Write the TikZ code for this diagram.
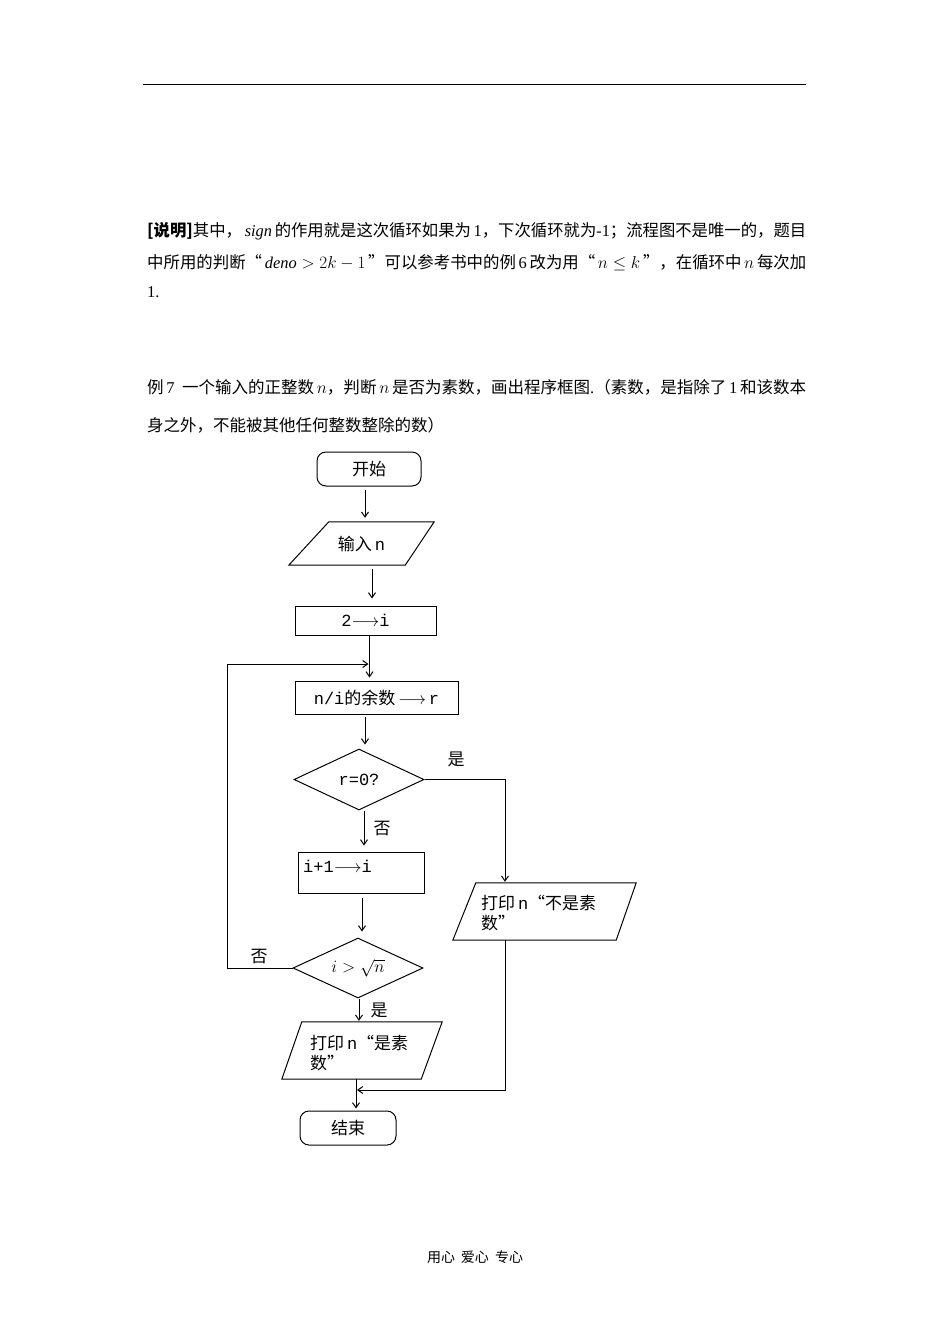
\documentclass[tikz,border=0pt]{standalone}
\usepackage{fontspec}
\usepackage{graphicx}
\setmainfont{Liberation Serif}
\newfontfamily\cjk{Noto Sans CJK SC}
\newfontfamily\fcmono{Liberation Mono}
\usetikzlibrary{shapes.geometric,arrows.meta,calc}
\newcommand{\fitline}[1]{\resizebox{659pt}{\height}{#1}}
\begin{document}
\begin{tikzpicture}[x=1pt,y=-1pt,
  body/.style={anchor=west,inner sep=0pt,font=\fontsize{16.5}{20}\selectfont},
  fc/.style={font=\cjk\fontsize{17}{20}\selectfont},
  term/.style={fc,draw,line width=1pt,rounded corners=9pt},
  proc/.style={fc,draw,line width=1pt,inner sep=0pt},
  iobox/.style={fc,inner sep=0pt},
  dec/.style={fc,draw,line width=1pt,diamond,inner sep=0pt},
  lbl/.style={fc,inner sep=0pt},
  conn/.style={line width=1pt},
  arr/.style={conn,-{Straight Barb[length=5pt,width=7pt]}}]
\useasboundingbox (0,0) rectangle (950,1344);
\draw[line width=1pt] (143,84) -- (806,84);
% body text
\node[body] (t1) at (147,231) {\fitline{{\cjk\bfseries [说明]}{\cjk 其中，}\,$\mathit{sign}$\,{\cjk 的作用就是这次循环如果为}\,1{\cjk ，下次循环就为}-1{\cjk ；流程图不是唯一的，题目}}};
\node[body] (t2) at (147,263) {\fitline{{\cjk 中所用的判断“}\,$\mathit{deno}>2k-1$\,{\cjk ”可以参考书中的例}\,6\,{\cjk 改为用“}\,$n\le k$\,{\cjk ”，在循环中}\,$n$\,{\cjk 每次加}}};
\node[body] (t3) at (147,292) {1.};
\node[body] (t4) at (147,387) {\fitline{{\cjk 例}\,7\;\,{\cjk 一个输入的正整数}\,$n${\cjk ，判断}\,$n$\,{\cjk 是否为素数，画出程序框图}.{\cjk （素数，是指除了}\,1\,{\cjk 和该数本}}};
\node[body] (t5) at (147,425) {{\cjk 身之外，不能被其他任何整数整除的数）}};
% flowchart
\node[term,minimum width=104pt,minimum height=34pt] (start) at (369,469) {开始};
\node[iobox,minimum width=145pt,minimum height=43pt] (inp) at (361.5,543.5) {输入\,{\fcmono n}};
\draw[conn] ($(inp.north west)+(40,0)$) -- (inp.north east) -- ($(inp.south east)+(-29,0)$) -- (inp.south west) -- cycle;
\node[proc,minimum width=141pt,minimum height=29pt] (b1) at (365.5,620.5) {{\fcmono 2}$\longrightarrow${\fcmono i}};
\node[proc,minimum width=163pt,minimum height=33pt] (b2) at (376.5,697.5) {{\fcmono n/i}的余数\,$\longrightarrow$\,{\fcmono r}};
\node[dec,minimum width=130pt,minimum height=61pt] (d1) at (359,779.5) {};
\node[lbl] (d1t) at (359,779.5) {{\fcmono r=0?}};
\node[proc,minimum width=126pt,minimum height=41pt] (b3) at (361,872.5) {};
\node[lbl,anchor=west] (b3t) at (303,866) {{\fcmono i+1}$\longrightarrow${\fcmono i}};
\node[dec,minimum width=130pt,minimum height=60pt] (d2) at (358,968) {};
\node[lbl,font=\fontsize{17}{20}\selectfont] (d2t) at (358,968) {$i>\sqrt{n}$};
\node[iobox,minimum width=183pt,minimum height=57pt] (p2) at (544.5,911.5) {};
\draw[conn] ($(p2.north west)+(23,0)$) -- (p2.north east) -- ($(p2.south east)+(-20,0)$) -- (p2.south west) -- cycle;
\node[lbl,anchor=west] (p2a) at (481,903) {打印\,{\fcmono n}“不是素};
\node[lbl,anchor=west] (p2b) at (481,923) {数”};
\node[iobox,minimum width=160pt,minimum height=57pt] (p1) at (362,1050.5) {};
\draw[conn] ($(p1.north west)+(20,0)$) -- (p1.north east) -- ($(p1.south east)+(-21,0)$) -- (p1.south west) -- cycle;
\node[lbl,anchor=west] (p1a) at (310,1043) {打印\,{\fcmono n}“是素};
\node[lbl,anchor=west] (p1b) at (310,1063) {数”};
\node[term,minimum width=96pt,minimum height=34pt] (end) at (348,1128) {结束};
\node[lbl] (yes1) at (456,759) {是};
\node[lbl] (no1) at (382,829) {否};
\node[lbl] (no2) at (259,957) {否};
\node[lbl] (yes2) at (379,1010) {是};
\coordinate (m1) at (369.5,664);
\coordinate (m2) at (356,1090);
% connectors
\draw[arr,shorten <=3pt,shorten >=4pt] ([xshift=-4]start.south) -- ([xshift=-4]start.south |- inp.north);
\draw[arr,shorten <=4pt,shorten >=7pt] ([xshift=10.5]inp.south) -- ([xshift=10.5]inp.south |- b1.north);
\draw[arr,shorten >=3pt] ([xshift=4]b1.south) -- ([xshift=4]b1.south |- b2.north);
\draw[arr,shorten <=2pt,shorten >=4pt] ([xshift=-11.5]b2.south) -- ([xshift=-11.5]b2.south |- d1.north);
\draw[arr,shorten >=1pt] (d1.east) -| ([xshift=-39.5]p2.north);
\draw[arr,shorten >=6pt] ([xshift=5]d1.south) -- ([xshift=5]d1.south |- b3.north);
\draw[arr,shorten <=4pt,shorten >=6pt] ([xshift=1]b3.south) -- ([xshift=1]b3.south |- d2.north);
\draw[arr,shorten >=1pt] ([xshift=1]d2.south) -- ([xshift=1]d2.south |- p1.north);
\draw[arr,shorten >=2pt] ([xshift=-6]p1.south) -- ([xshift=-6]p1.south |- end.north);
\draw[arr,shorten >=1pt] (d2.west) -- ++(-65,0) |- (m1);
\draw[arr,shorten >=1pt] ([xshift=-39.5]p2.south) |- (m2);
% footer
\node[font=\cjk\fontsize{14}{16}\selectfont] (foot) at (475,1257) {用心\hspace{6pt}爱心\hspace{6pt}专心};
\end{tikzpicture}
\end{document}
